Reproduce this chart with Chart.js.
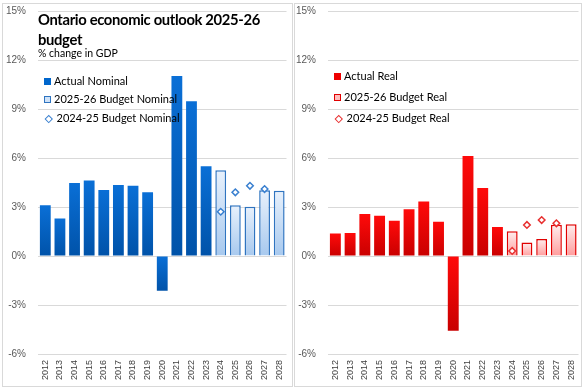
<!DOCTYPE html>
<html>
<head>
<meta charset="utf-8">
<script src="https://cdn.jsdelivr.net/npm/chart.js@4/dist/chart.umd.min.js"></script>
<style>
  body { margin: 0; background: #fff; width: 584px; height: 389px; position: relative; overflow: hidden;
         font-family: Lato, "Liberation Sans", sans-serif; color: #000; }
  .panel { position: absolute; top: 3px; height: 384px; border: 1px solid #d9d9d9; box-sizing: border-box; }
  canvas { position: absolute; top: 0; }
  .title { position: absolute; left: 38px; top: 9px; font-weight: bold; font-size: 14.8px; letter-spacing: -0.35px; line-height: 20px; white-space: nowrap; }
  .sub { position: absolute; left: 38px; top: 47px; font-size: 10.5px; }
  .legend { position: absolute; font-size: 11px; }
  .legend div { position: absolute; white-space: nowrap; line-height: 14px; }
  .sw { display: inline-block; width: 7px; height: 7px; margin-right: 3px; vertical-align: 0; box-sizing: border-box; }
  .dm { display: inline-block; width: 3.5px; height: 3.5px; margin: 0 5px 1px 2px; transform: rotate(45deg); border: 1.2px solid; background: #fff; }
</style>
</head>
<body>
<div class="panel" style="left:2px;width:291px"></div>
<div class="panel" style="left:294px;width:288px"></div>
<canvas id="nominalChart" width="292" height="389" style="left:0"></canvas>
<canvas id="realChart" width="292" height="389" style="left:292px"></canvas>

<div class="title">Ontario economic outlook 2025-26<br>budget</div>
<div class="sub">% change in GDP</div>

<div class="legend">
  <div style="left:44px;top:74px"><span class="sw" style="background:#0066cc"></span>Actual Nominal</div>
  <div style="left:44px;top:92px"><span class="sw" style="background:#cfe2f8;border:1px solid #2f74c0"></span>2025-26 Budget Nominal</div>
  <div style="left:44px;top:111px"><span class="dm" style="border-color:#3a80d0"></span>2024-25 Budget Nominal</div>
  <div style="left:334px;top:69px"><span class="sw" style="background:#ee0000"></span>Actual Real</div>
  <div style="left:334px;top:90px"><span class="sw" style="background:#ffbcbc;border:1px solid #e00000"></span>2025-26 Budget Real</div>
  <div style="left:334px;top:111px"><span class="dm" style="border-color:#e83030"></span>2024-25 Budget Real</div>
</div>

<script>
  var years = ['2012', '2013', '2014', '2015', '2016', '2017', '2018', '2019', '2020',
               '2021', '2022', '2023', '2024', '2025', '2026', '2027', '2028'];

  var nominalActual = [3.1, 2.3, 4.47, 4.63, 4.04, 4.35, 4.3, 3.9, -2.12, 11.02, 9.47, 5.49,
                       null, null, null, null, null];
  var nominalBudget = [null, null, null, null, null, null, null, null, null, null, null, null,
                       5.25, 3.1, 3.02, 4.02, 4.0];
  var nominalPrior = [null, null, null, null, null, null, null, null, null, null, null, null,
                      2.71, 3.9, 4.3, 4.1, null];

  var realActual = [1.37, 1.41, 2.57, 2.47, 2.16, 2.86, 3.33, 2.1, -4.57, 6.12, 4.16, 1.78,
                    null, null, null, null, null];
  var realBudget = [null, null, null, null, null, null, null, null, null, null, null, null,
                    1.51, 0.82, 1.04, 1.92, 1.94];
  var realPrior = [null, null, null, null, null, null, null, null, null, null, null, null,
                   0.31, 1.9, 2.2, 2.0, null];

  var Y_MIN = -6, Y_MAX = 15, Y_STEP = 3;

  // per-bar vertical gradient, light at top, dark at bottom
  function barGradient(top, bottom) {
    return function (c) {
      var chart = c.chart;
      if (!chart.chartArea || c.raw == null) return bottom;
      var y = chart.scales.y;
      var a = y.getPixelForValue(c.raw), b = y.getPixelForValue(0);
      var g = chart.ctx.createLinearGradient(0, Math.min(a, b), 0, Math.max(a, b) + 1);
      g.addColorStop(0, top);
      g.addColorStop(1, bottom);
      return g;
    };
  }

  function makeChart(id, axisWidth, padRight, s) {
    return new Chart(document.getElementById(id), {
      type: 'bar',
      data: {
        labels: years,
        datasets: [{
          type: 'line',
          data: s.prior,
          showLine: false,
          pointStyle: 'rectRot',
          pointRadius: 3.3,
          pointBorderWidth: 1.5,
          pointBackgroundColor: '#ffffff',
          pointBorderColor: s.diamond,
          order: 0,
        }, {
          data: s.actual,
          backgroundColor: barGradient(s.actualTop, s.actualBottom),
          borderWidth: 0,
          grouped: false,
          order: 2,
        }, {
          data: s.budget,
          backgroundColor: barGradient(s.budgetTop, s.budgetBottom),
          borderColor: s.budgetBorder,
          borderWidth: 1.5,
          grouped: false,
          order: 1,
        }],
      },
      options: {
        responsive: false,
        animation: false,
        events: [],
        layout: { padding: { top: 11, right: padRight, left: 0, bottom: 0 } },
        datasets: { bar: { categoryPercentage: 1, barPercentage: 0.74 } },
        plugins: { legend: { display: false }, tooltip: { enabled: false } },
        scales: {
          x: {
            grid: { display: false, drawTicks: false },
            border: { display: false },
            ticks: {
              minRotation: 90, maxRotation: 90, padding: 6,
              color: '#404040',
              font: { family: 'Liberation Sans', size: 9 },
            },
            afterFit: function (scale) {
              scale.height = 35;
              scale.paddingLeft = 0;
              scale.paddingRight = 0;
            },
          },
          y: {
            min: Y_MIN, max: Y_MAX,
            grid: { color: '#d9d9d9', drawTicks: false },
            border: { display: false },
            ticks: {
              stepSize: Y_STEP, padding: 12,
              color: '#595959',
              font: { family: 'Liberation Sans', size: 10 },
              callback: function (v) { return v + '%'; },
            },
            afterFit: function (scale) {
              scale.width = axisWidth;
              scale.paddingTop = 0;
              scale.paddingBottom = 0;
            },
          },
        },
      },
    });
  }

  makeChart('nominalChart', 38, 1, {
    actual: nominalActual, budget: nominalBudget, prior: nominalPrior,
    actualTop: '#0a6fd6', actualBottom: '#0052a8',
    budgetTop: '#e8f1fc', budgetBottom: '#a6c8ee', budgetBorder: '#2f74c0',
    diamond: '#3a80d0',
  });

  makeChart('realChart', 36, 3, {
    actual: realActual, budget: realBudget, prior: realPrior,
    actualTop: '#ff0a0a', actualBottom: '#c80000',
    budgetTop: '#ffeeee', budgetBottom: '#ff9a9a', budgetBorder: '#e00000',
    diamond: '#e83030',
  });
</script>
</body>
</html>
